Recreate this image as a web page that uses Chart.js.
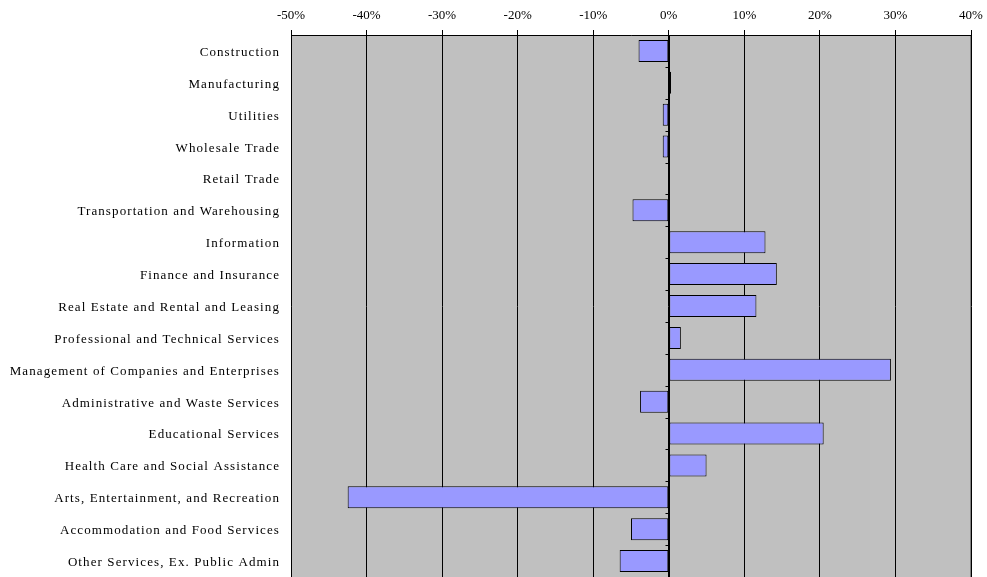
<!DOCTYPE html>
<html><head><meta charset="utf-8">
<script src="https://cdn.jsdelivr.net/npm/chart.js@4/dist/chart.umd.min.js"></script>
<style>
html,body{margin:0;padding:0;background:#fff;overflow:hidden;}
canvas{position:absolute;left:0;top:0;}
</style></head>
<body><canvas id="c" width="987" height="577"></canvas>
<script>
const categories = [
  "Construction","Manufacturing","Utilities","Wholesale Trade","Retail Trade",
  "Transportation and Warehousing","Information","Finance and Insurance",
  "Real Estate and Rental and Leasing","Professional and Technical Services",
  "Management of Companies and Enterprises","Administrative and Waste Services",
  "Educational Services","Health Care and Social Assistance",
  "Arts, Entertainment, and Recreation","Accommodation and Food Services",
  "Other Services, Ex. Public Admin"
];
const changePct = [-4.0, 0.3, -0.8, -0.8, 0, -4.8, 12.8, 14.3, 11.6, 1.6, 29.4, -3.8, 20.5, 5.0, -42.5, -5.0, -6.5];
const xMin = -50, xMax = 40, xStep = 10;

const bgPlugin = {
  id: 'bg',
  beforeLayout(chart){ chart.ctx.letterSpacing = '0px'; },
  beforeDraw(chart){
    const {ctx, chartArea:a} = chart;
    ctx.letterSpacing = '1.1px';
    ctx.save();
    ctx.fillStyle = '#C0C0C0';
    ctx.fillRect(a.left, a.top, a.right - a.left, a.bottom - a.top);
    ctx.strokeStyle = '#808080';
    ctx.lineWidth = 1;
    ctx.strokeRect(a.left + 0.5, a.top + 0.5, a.right - a.left - 1, a.bottom - a.top);
    ctx.restore();
  },
  afterDatasetsDraw(chart){
    const {ctx, chartArea:a, scales} = chart;
    ctx.letterSpacing = '0px';
    const x0 = Math.round(scales.x.getPixelForValue(0)) + 0.5;
    const ys = scales.y;
    ctx.save();
    ctx.strokeStyle = '#000';
    ctx.lineWidth = 1;
    ctx.beginPath();
    ctx.moveTo(x0, a.top); ctx.lineTo(x0, a.bottom);
    for (let i = 0; i <= categories.length; i++) {
      const y = Math.round(ys.getPixelForValue(i - 0.5)) + 0.5;
      ctx.moveTo(x0 - 4, y); ctx.lineTo(x0, y);
    }
    ctx.stroke();
    ctx.restore();
  }
};

new Chart(document.getElementById('c'), {
  type: 'bar',
  data: {
    labels: categories,
    datasets: [{
      data: changePct,
      backgroundColor: '#9999FF',
      borderColor: '#000000',
      borderWidth: 1,
      borderSkipped: false,
      barPercentage: 0.69,
      categoryPercentage: 1.0
    }]
  },
  options: {
    indexAxis: 'y',
    responsive: false,
    animation: false,
    devicePixelRatio: 1,
    layout: { padding: { left: 0, right: 16, top: 0, bottom: 0 } },
    plugins: { legend: { display: false }, tooltip: { enabled: false } },
    scales: {
      x: {
        position: 'top',
        min: xMin, max: xMax,
        ticks: {
          stepSize: xStep,
          color: '#000',
          padding: 7,
          z: 1,
          font: { family: '"Liberation Serif", "Times New Roman", serif', size: 13 },
          callback: v => v + '%'
        },
        grid: { color: '#000', lineWidth: 1, tickLength: 5, drawTicks: true },
        border: { display: true, color: '#000', width: 1 },
        afterFit(s){ s.height = 35; s.paddingLeft = 0; s.paddingRight = 0; }
      },
      y: {
        ticks: {
          color: '#000',
          padding: 3,
          labelOffset: 1.5,
          autoSkip: false,
          font: { family: '"Liberation Serif", "Times New Roman", serif', size: 13 }
        },
        grid: { display: false },
        border: { display: false },
        afterFit(s){ s.width = 291; s.paddingTop = 0; s.paddingBottom = 0; }
      }
    }
  },
  plugins: [bgPlugin]
});
</script></body></html>
